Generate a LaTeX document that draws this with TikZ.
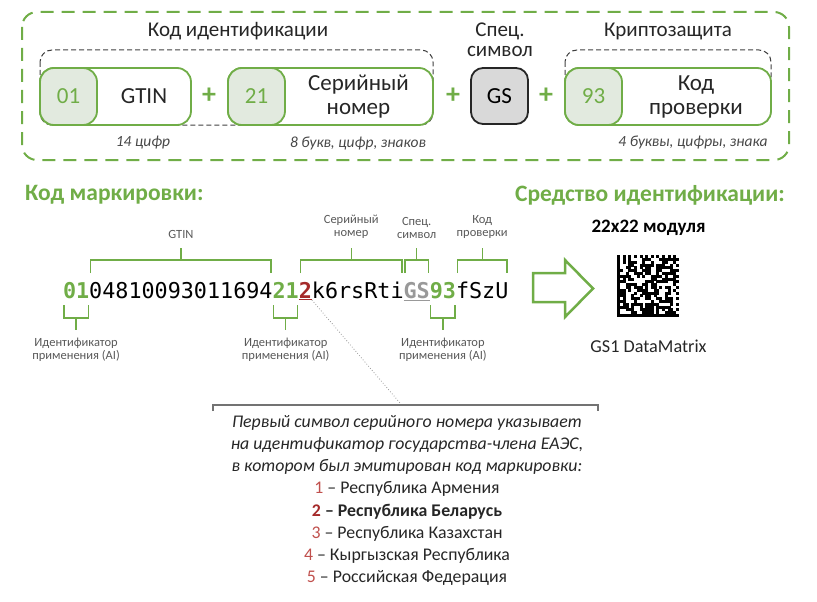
\documentclass[tikz,border=0pt]{standalone}
\usepackage{fontspec}
\setmainfont{Carlito}
\newfontfamily\codefont{DejaVu Sans Mono}
\usepackage{xcolor}
\usepackage{tikz}
\usetikzlibrary{calc}

\definecolor{mkgreen}{HTML}{70AD47}
\definecolor{aifill}{HTML}{E2EADF}
\definecolor{gsfill}{HTML}{D9D9D9}
\definecolor{txt}{HTML}{262626}
\definecolor{lbl}{HTML}{595959}
\definecolor{numred}{HTML}{C0504D}
\definecolor{darkred}{HTML}{A52A2A}

\begin{document}
\begin{tikzpicture}[x=1pt,y=-1pt,
    segbox/.style={draw=mkgreen,line width=1.8pt,fill=white,rounded corners=14pt,minimum height=57pt,inner sep=0pt},
    aibox/.style={segbox,fill=aifill,minimum width=57pt,text=mkgreen,font=\fontsize{23}{26}\selectfont},
    gsbox/.style={draw=black!85,line width=1.8pt,fill=gsfill,rounded corners=12pt,minimum width=57pt,minimum height=56pt,font=\fontsize{23}{26}\selectfont},
    segtext/.style={text=txt,align=center,inner sep=0pt,font=\fontsize{23}{24}\selectfont},
    plus/.style={text=mkgreen,font=\bfseries\fontsize{28}{30}\selectfont,inner sep=0pt},
    head/.style={text=txt,align=center,inner sep=0pt,font=\fontsize{21}{20}\selectfont},
    hint/.style={text=txt!85,inner sep=0pt,font=\itshape\fontsize{15.5}{17}\selectfont},
    title/.style={text=mkgreen,inner sep=0pt,font=\bfseries\fontsize{23.5}{26}\selectfont},
    code/.style={inner sep=0pt,outer sep=0pt,anchor=base west,text=black,font=\codefont\fontsize{21.76}{24}\selectfont},
    aicode/.style={code,text=mkgreen,font=\codefont\bfseries\fontsize{21.76}{24}\selectfont},
    brk/.style={draw=mkgreen,line width=1.3pt},
    lbltext/.style={text=lbl,align=center,inner sep=0pt,font=\fontsize{12.5}{13}\selectfont},
    notetext/.style={text=txt,align=center,inner sep=0pt,font=\fontsize{17.8}{22.2}\selectfont}]
    \useasboundingbox (0,0) rectangle (817,602);

    % top panel
    \draw[mkgreen,line width=2pt,dash pattern=on 13pt off 8pt,rounded corners=15pt] (22,12) rectangle (789,160);
    \draw[black!75,line width=1pt,dash pattern=on 5pt off 3pt,rounded corners=12pt] (40,50) rectangle (433,125);
    \draw[black!75,line width=1pt,dash pattern=on 5pt off 3pt,rounded corners=12pt] (565,50) rectangle (771,124);

    \node[head] (idhead) at (238,31) {Код идентификации};
    \node[head] (gshead) at (500,40) {Спец.\\символ};
    \node[head] (crhead) at (668,31) {Криптозащита};

    \node[segbox,minimum width=151pt] (gtinbox) at (115.5,96.5) {};
    \node[aibox] (box01) at (68.5,96.5) {01};
    \node[segtext] (gtintext) at (144,96.5) {GTIN};

    \node[plus] (plus1) at (209,96) {+};

    \node[segbox,minimum width=205pt] (serbox) at (330.5,96.5) {};
    \node[aibox] (box21) at (256.5,96.5) {21};
    \node[segtext] (sertext) at (358.5,96.5) {Серийный\\номер};

    \node[plus] (plus2) at (453,96) {+};

    \node[gsbox] (gsbox) at (499.5,96) {GS};

    \node[plus] (plus3) at (546,96) {+};

    \node[segbox,minimum width=206pt] (chkbox) at (668,96.5) {};
    \node[aibox] (box93) at (593.5,96.5) {93};
    \node[segtext] (chktext) at (696,96.5) {Код\\проверки};

    \node[hint] (hint1) at (143,143) {14 цифр};
    \node[hint] (hint2) at (358,143) {8 букв, цифр, знаков};
    \node[hint] (hint3) at (693,143) {4 буквы, цифры, знака};

    % marking code
    \node[title,anchor=west] (mktitle) at (25,195) {Код маркировки:};
    \node[title,anchor=east] (idtitle) at (785,195) {Средство идентификации:};

    \node[aicode] (ai1) at (63,298) {01};
    \node[code] (gtin) at (ai1.base east) {04810093011694};
    \node[aicode] (ai2) at (gtin.base east) {21};
    \node[aicode,text=darkred] (cc) at (ai2.base east) {\underline{2}};
    \node[code] (ser) at (cc.base east) {k6rsRti};
    \node[aicode,text=black!40] (gs) at (ser.base east) {\underline{GS}};
    \node[aicode] (ai3) at (gs.base east) {93};
    \node[code] (chk) at (ai3.base east) {fSzU};

    \foreach \segl/\segr/\txt in {gtin/gtin/GTIN, cc/ser/{Серийный\\номер}, gs/gs/{Спец.\\символ}, chk/chk/{Код\\проверки}}{
        \path (\segl.west |- 0,273) coordinate (p1) (\segr.east |- 0,273) coordinate (p2);
        \draw[brk] ([xshift=1.5pt]p1) -- ++(0,-13) -| ([xshift=-1.5pt]p2);
        \draw[brk] ($(p1)!0.5!(p2)+(0,-13)$) -- ++(0,-12);
        \node[lbltext,anchor=south] at ($(p1)!0.5!(p2)+(0,-34)$) {\txt};
    }

    \foreach \seg in {ai1,ai2,ai3}{
        \path (\seg.west |- 0,305) coordinate (q1) (\seg.east |- 0,305) coordinate (q2);
        \draw[brk] ([xshift=1pt]q1) -- ++(0,13) -| ([xshift=-1pt]q2);
        \draw[brk] ($(q1)!0.5!(q2)+(0,13)$) -- ++(0,12);
        \node[lbltext,anchor=north] at ($(q1)!0.5!(q2)+(0,33)$) {Идентификатор\\применения (AI)};
    }

    % arrow
    \draw[mkgreen,line width=2.5pt,fill=white,line join=miter] (533,273) -- (565,273) -- (565,260) -- (593,288.5) -- (565,317) -- (565,302) -- (533,302) -- cycle;

    % data matrix
    \node[text=black,inner sep=0pt,font=\bfseries\fontsize{19}{22}\selectfont] (dmsize) at (648.5,228) {22x22 модуля};
    \pgfmathsetseed{2207}
    \foreach \c in {0,...,21}{
        \foreach \r in {0,...,21}{
            \pgfmathrandominteger{\dmbit}{0}{1}
            \ifnum\c=0 \def\dmbit{1}\fi
            \ifnum\r=21 \def\dmbit{1}\fi
            \ifnum\r=0 \pgfmathparse{int(mod(\c+1,2))}\let\dmbit\pgfmathresult\fi
            \ifnum\c=21 \ifnum\r<21 \pgfmathparse{int(mod(\r,2))}\let\dmbit\pgfmathresult\fi\fi
            \ifnum\dmbit=1 \fill[black] (617.2+2.8*\c,255.2+2.8*\r) rectangle ++(2.9,2.9);\fi
        }
    }
    \node[text=txt,inner sep=0pt,font=\fontsize{18.2}{20}\selectfont] (dmname) at (648.5,346) {GS1 DataMatrix};

    % note
    \coordinate (notetop) at (400,403);
    \draw[black!40,line width=0.8pt,dotted] (cc.south east) -- (notetop);
    \draw[black!55,line width=1.2pt] (213,411) -- (213,405) -- (598,405) -- (598,411);
    \node[notetext,anchor=north] (note) at (407,415) {\textit{Первый символ серийного номера указывает}\\
        \textit{на идентификатор государства-члена ЕАЭС,}\\
        \textit{в котором был эмитирован код маркировки:}\\
        {\color{numred}1} – Республика Армения\\
        \textbf{{\color{darkred}2} – Республика Беларусь}\\
        {\color{numred}3} – Республика Казахстан\\
        {\color{numred}4} – Кыргызская Республика\\
        {\color{numred}5} – Российская Федерация};
\end{tikzpicture}
\end{document}
